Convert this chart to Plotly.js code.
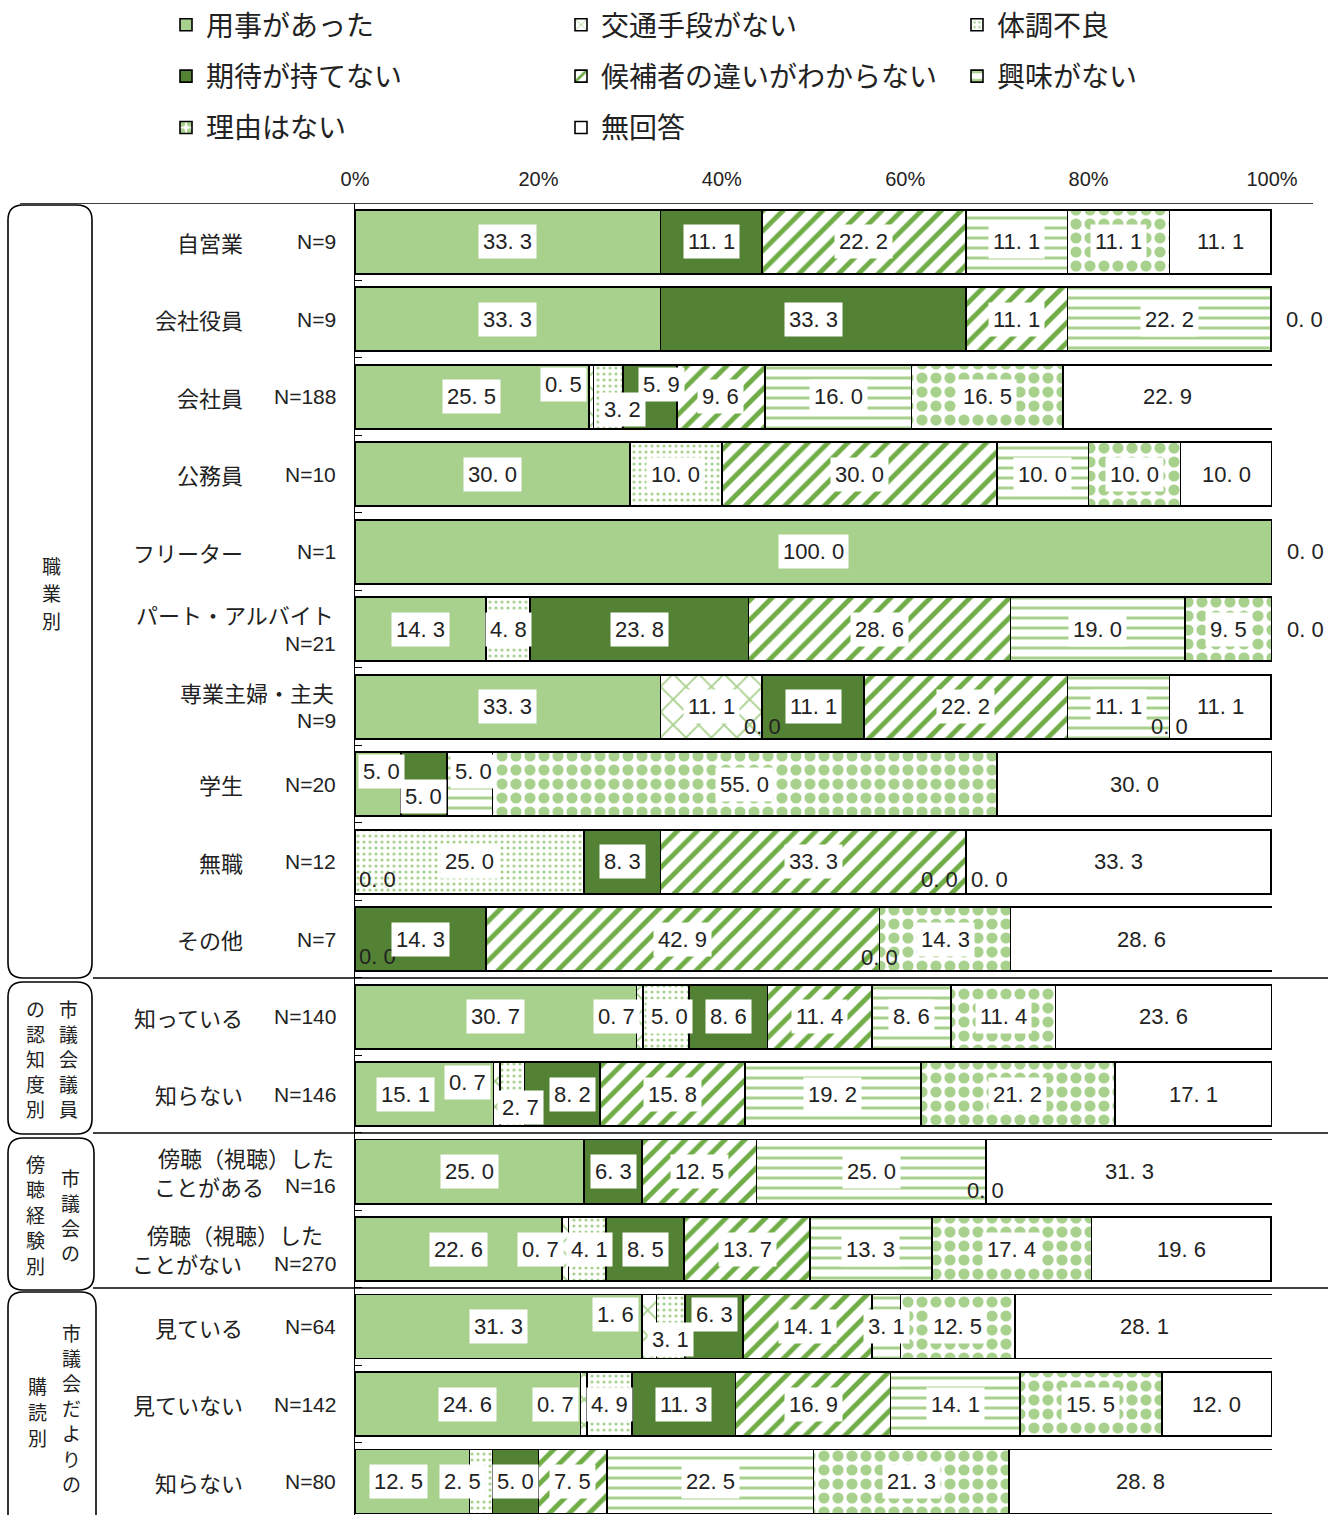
<!DOCTYPE html>
<html><head><meta charset="utf-8">
<script src="https://cdn.plot.ly/plotly-3.0.1.min.js"></script>
<style>body{margin:0;background:#fff}#chart{width:1338px;height:1515px}</style>
</head><body><div id="chart"></div>
<script>
// ---------------- data ----------------
const seriesNames = ['用事があった','交通手段がない','体調不良','期待が持てない','候補者の違いがわからない','興味がない','理由はない','無回答'];
const rowNames = ['自営業','会社役員','会社員','公務員','フリーター','パート・アルバイト','専業主婦・主夫','学生','無職','その他','知っている','知らない','傍聴（視聴）した<br>ことがある','傍聴（視聴）した<br>ことがない','見ている','見ていない','知らない'];
const rowN = ['N=9','N=9','N=188','N=10','N=1','N=21','N=9','N=20','N=12','N=7','N=140','N=146','N=16','N=270','N=64','N=142','N=80'];
const tickValues = [0,20,40,60,80,100];
const tickLabels = ['0%','20%','40%','60%','80%','100%'];
// values (%) per series, by row; null = not shown
const yoji    = [33.3,33.3,25.5,30.0,100.0,14.3,33.3,5.0,0,0,30.7,15.1,25.0,22.6,31.3,24.6,12.5];
const kotsu   = [null,null,0.5,null,null,null,11.1,null,null,null,0.7,0.7,null,0.7,1.6,0.7,null];
const taicho  = [null,null,3.2,10.0,null,4.8,0,null,25.0,null,5.0,2.7,null,4.1,3.1,4.9,2.5];
const kitai   = [11.1,33.3,5.9,null,null,23.8,11.1,5.0,8.3,14.3,8.6,8.2,6.3,8.5,6.3,11.3,5.0];
const kohosha = [22.2,11.1,9.6,30.0,null,28.6,22.2,null,33.3,42.9,11.4,15.8,12.5,13.7,14.1,16.9,7.5];
const kyomi   = [11.1,22.2,16.0,10.0,null,19.0,11.1,5.0,0,0,8.6,19.2,25.0,13.3,3.1,14.1,22.5];
const riyu    = [11.1,null,16.5,10.0,null,9.5,0,55.0,0,14.3,11.4,21.2,0,17.4,12.5,15.5,21.3];
const mukaito = [11.1,0,22.9,10.0,0,0,11.1,30.0,33.3,28.6,23.6,17.1,31.3,19.6,28.1,12.0,28.8];
const seriesValues = [yoji,kotsu,taicho,kitai,kohosha,kyomi,riyu,mukaito];

// group boxes: vertical text columns
const groupCols = [
  [{chars:'職業別', x:51, y0:565, step:27.5}],
  [{chars:'市議会議員', x:68, y0:1008, step:25},{chars:'の認知度別', x:35, y0:1008, step:25}],
  [{chars:'市議会の', x:70, y0:1177, step:25},{chars:'傍聴経験別', x:35, y0:1163, step:25.5}],
  [{chars:'市議会だよりの', x:71, y0:1332, step:25.2},{chars:'購読別', x:37, y0:1385, step:26}]
];
const groupBoxes = [[8,205,92,978],[8,982,92,1134],[8,1138,94,1290],[8,1292,96,1535]];

// ---------------- styling ----------------
const W=1338, H=1515, L=355, R=1272, T=203, B=1515;
const px2x = p => (p-L)/(R-L);
const py2y = p => 1-(p-T)/(B-T);
const NUM = "'Liberation Sans','Noto Sans CJK JP',sans-serif";
const JP = "'Noto Sans CJK JP',sans-serif";
const TXT = '#222';
const LG='#a9d18e', DG='#548235', MG='#70ad47';
const styles = [
  {color:LG},
  {color:'#ffffff', pattern:{shape:'x', fgcolor:LG, bgcolor:'#ffffff', size:18, solidity:0.2}},
  {color:'#ffffff', pattern:{shape:'.', fgcolor:LG, bgcolor:'#ffffff', size:6, solidity:0.22}},
  {color:DG},
  {color:'#ffffff', pattern:{shape:'/', fgcolor:MG, bgcolor:'#ffffff', size:14, solidity:0.35}},
  {color:'#ffffff', pattern:{shape:'-', fgcolor:LG, bgcolor:'#ffffff', size:10, solidity:0.3}},
  {color:'#ffffff', pattern:{shape:'.', fgcolor:LG, bgcolor:'#ffffff', size:14, solidity:0.5}},
  {color:'#ffffff'}
];
const legendOf = ['legend','legend2','legend3','legend','legend2','legend3','legend','legend2'];
// label offsets in px [dx, dy(down)], key "row,series"
const labelOffsets = {
 '1,7':[33,0],'4,7':[33,0],'5,7':[33,0],
 '2,1':[-28,-12],'2,2':[14,13],'2,3':[12,-12],
 '6,2':[0,20],'6,6':[0,20],
 '7,0':[4,-13],'7,3':[0,12],'7,5':[4,-13],
 '8,0':[22,18],'8,5':[-26,18],'8,6':[24,18],
 '9,0':[22,17],'9,5':[0,18],
 '10,1':[-23,0],'10,2':[4,0],
 '11,0':[-19,0],'11,1':[-29,-12],'11,2':[8,13],'11,3':[10,0],
 '12,6':[0,19],
 '13,1':[-25,0],'13,2':[2,0],
 '14,1':[-34,-12],'14,2':[0,13],'14,3':[0,-12],
 '15,1':[-28,0],
 '16,0':[-14,0],'16,2':[-19,0]
};
const fmt = v => v.toFixed(1).replace('.', '. ');

const rowIdx = rowNames.map((_,i)=>i);
const traces = seriesValues.map((vals,si)=>({
  type:'bar', orientation:'h', name:seriesNames[si],
  y: rowIdx, x: vals,
  width: 0.826,
  marker: Object.assign({}, styles[si], {line:{color:'#000', width:1.6}}),
  legend: legendOf[si], legendgroup:'g'+si,
  hoverinfo:'skip'
}));

const annotations = [];
rowIdx.forEach(ri=>{
  let cum=0;
  seriesValues.forEach((vals,si)=>{
    const v = vals[ri];
    if(v===null) return;
    const c = cum + v/2; cum += v;
    const off = labelOffsets[ri+','+si] || [0,0];
    annotations.push({xref:'x', yref:'y', x:c, y:ri, xanchor:'center', yanchor:'middle', text:fmt(v), showarrow:false,
      xshift:off[0], yshift:-off[1], font:{family:NUM, size:22, color:TXT},
      bgcolor: v===0 ? 'rgba(0,0,0,0)' : '#ffffff', borderpad:4});
  });
});
// row labels
function addText(x, ri, dy, text, anchor, font){
  annotations.push({xref:'paper', yref:'y', x:px2x(x), y:ri, xanchor:anchor, yanchor:'middle', yshift:-dy, text, showarrow:false, font});
}
const fJP = {family:JP, size:22, color:TXT};
const fN = {family:NUM, size:21, color:TXT};
rowIdx.forEach(ri=>{
  const parts = rowNames[ri].split('<br>');
  if(ri===5 || ri===6){
    addText(336, ri, -15, parts[0], 'right', fJP);
    addText(338, ri, 14, rowN[ri], 'right', fN);
  } else if(parts.length===2){
    addText(ri===12?336:325, ri, -15, parts[0], 'right', fJP);
    addText(ri===12?152:130, ri, 14, parts[1], 'left', fJP);
    addText(338, ri, 14, rowN[ri], 'right', fN);
  } else {
    addText(245, ri, 0, parts[0], 'right', fJP);
    addText(338, ri, 0, rowN[ri], 'right', fN);
  }
});
// vertical group titles (stacked characters)
groupCols.forEach(cols=>cols.forEach(col=>{
  Array.from(col.chars).forEach((ch,k)=>{
    annotations.push({xref:'paper', yref:'paper', x:px2x(col.x), y:py2y(col.y0+k*col.step), xanchor:'center', yanchor:'middle',
      text:ch, showarrow:false, borderpad:0, font:{family:JP,size:Math.min(col.step/1.32,19),color:TXT}});
  });
}));

const shapes = [];
function roundBox(x0,y0,x1,y1,r){
  const X=px2x, Y=py2y;
  return `M${X(x0+r)},${Y(y0)} L${X(x1-r)},${Y(y0)} Q${X(x1)},${Y(y0)} ${X(x1)},${Y(y0+r)} L${X(x1)},${Y(y1-r)} Q${X(x1)},${Y(y1)} ${X(x1-r)},${Y(y1)} L${X(x0+r)},${Y(y1)} Q${X(x0)},${Y(y1)} ${X(x0)},${Y(y1-r)} L${X(x0)},${Y(y0+r)} Q${X(x0)},${Y(y0)} ${X(x0+r)},${Y(y0)} Z`;
}
groupBoxes.forEach(b=>shapes.push({type:'path', xref:'paper', yref:'paper', path:roundBox(b[0],b[1],b[2],b[3],15), line:{color:'#000',width:1.6}, fillcolor:'rgba(0,0,0,0)'}));
shapes.push({type:'line', xref:'paper', yref:'y', x0:px2x(20), x1:px2x(1313), y0:-0.5, y1:-0.5, line:{color:'#000',width:1.6}});
[9.5,11.5,13.5].forEach(yb=>shapes.push({type:'line', xref:'paper', yref:'y', x0:px2x(93), x1:px2x(1328), y0:yb, y1:yb, line:{color:'#000',width:1.4}}));

const legendBase = {orientation:'v', xanchor:'left', yanchor:'top', y:py2y(0), traceorder:'grouped', tracegroupgap:12,
  font:{family:JP,size:28,color:TXT}, bgcolor:'rgba(0,0,0,0)', itemclick:false, itemdoubleclick:false};

const layout = {
  width:W, height:H, margin:{l:L, r:W-R, t:T, b:0}, barmode:'stack', showlegend:true,
  paper_bgcolor:'#fff', plot_bgcolor:'#fff',
  xaxis:{side:'top', range:[0,100], tickvals:tickValues, ticktext:tickLabels, showgrid:false, zeroline:false, showline:false,
    ticks:'', ticklabelstandoff:12, tickfont:{family:NUM,size:20,color:TXT}, fixedrange:true},
  yaxis:{range:[16.43,-0.5], showgrid:false, zeroline:false, showticklabels:false, showline:true, linecolor:'#000', linewidth:1,
    ticks:'inside', ticklen:7, tickcolor:'#000', tickvals: rowIdx.map(i=>i+0.5), fixedrange:true},
  legend: Object.assign({}, legendBase, {x:px2x(166)}),
  legend2: Object.assign({}, legendBase, {x:px2x(561)}),
  legend3: Object.assign({}, legendBase, {x:px2x(957)}),
  annotations, shapes
};
Plotly.newPlot('chart', traces, layout, {displayModeBar:false, staticPlot:true});
</script></body></html>
